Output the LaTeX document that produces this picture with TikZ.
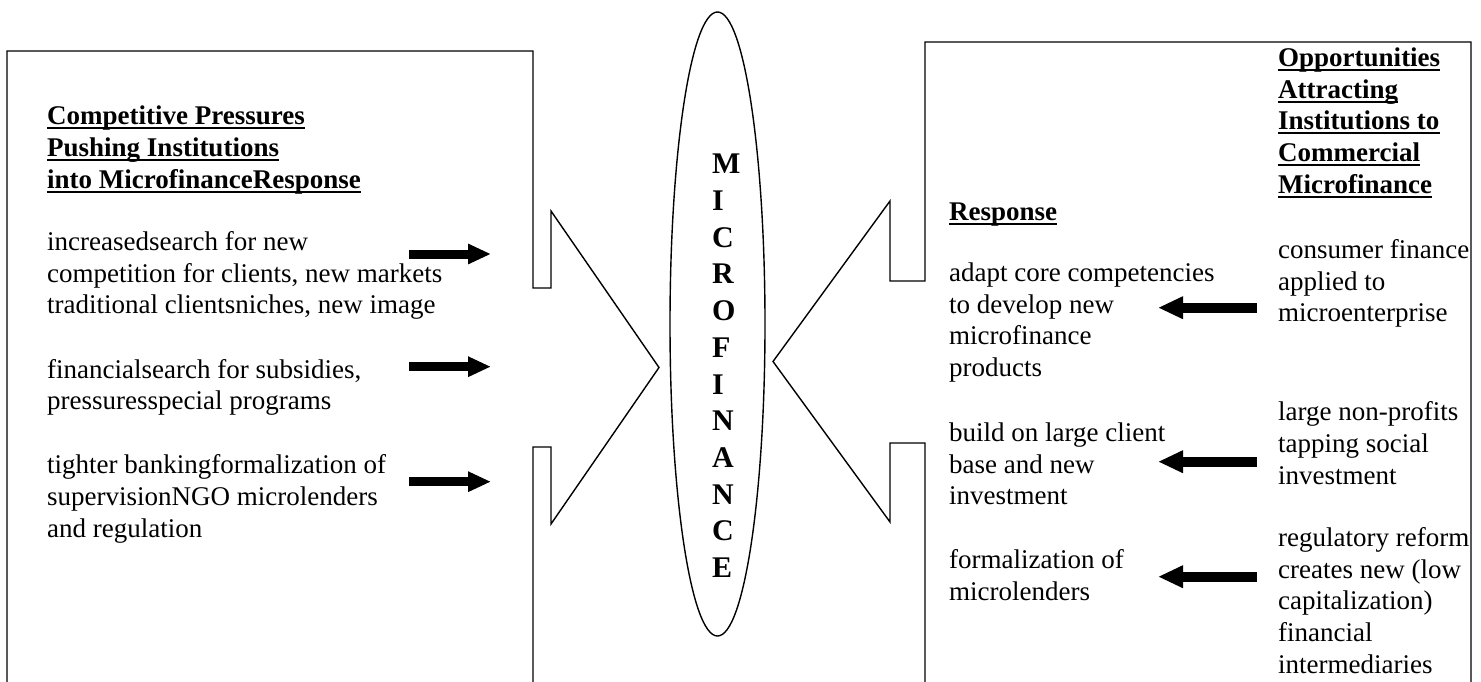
\documentclass[tikz,border=0pt]{standalone}
\usepackage{fontspec}
\setmainfont{Liberation Serif}
\usetikzlibrary{arrows.meta}
\newcommand\ulx[1]{\setbox0\hbox{#1}\rlap{\rule[-4.5pt]{\wd0}{2pt}}\box0}
\begin{document}
\begin{tikzpicture}[x=1pt,y=-1pt,
  txt/.style={anchor=north west, inner sep=0pt, align=left, font=\fontsize{27}{31.7}\selectfont},
  hd/.style={txt, font=\fontsize{27}{31.7}\selectfont\bfseries},
  outline/.style={draw=black, line width=1.4pt, line join=miter},
  larrow/.style={line width=9pt, -{Triangle[length=23pt, width=19pt]}},
  rarrow/.style={line width=10pt, -{Triangle[length=25pt, width=21pt]}}]
\useasboundingbox (0,0) rectangle (1481,682);

% left callout shape
\draw[outline] (7,690) -- (7,51) -- (533,51) -- (533,288) -- (551,288) -- (551,211)
  -- (659,367.5) -- (551,524) -- (551,447) -- (533,447) -- (533,690);

% right callout shape
\draw[outline] (925,690) -- (925,443) -- (890,443) -- (890,522) -- (773,361.5)
  -- (890,201) -- (890,281) -- (925,281) -- (925,42) -- (1471,42) -- (1471,690);

% central ellipse
\draw[outline] (717.5,324) ellipse [x radius=47.5, y radius=312];
\node[anchor=north west, inner sep=0pt, align=left, font=\fontsize{30}{36.7}\selectfont\bfseries]
  (mftext) at (712,148) {\strut M\\I\\C\\R\\O\\F\\I\\N\\A\\N\\C\\E};

% left texts
\node[hd] (lhead) at (47,102.4) {\strut\ulx{Competitive Pressures}\\\ulx{Pushing Institutions}\\\ulx{into MicrofinanceResponse}};
\node[txt] (litem1) at (47,228) {\strut increasedsearch for new\\competition for clients, new markets\\traditional clientsniches, new image};
\node[txt] (litem2) at (47,355.8) {\strut financialsearch for subsidies,\\pressuresspecial programs};
\node[txt] (litem3) at (47,451.5) {\strut tighter bankingformalization of\\supervisionNGO microlenders\\and regulation};

% right response column
\node[hd] (rresp) at (949,198.5) {\strut\ulx{Response}};
\node[txt] (rr1) at (949,259) {\strut adapt core competencies\\to develop new\\microfinance\\products};
\node[txt] (rr2) at (949,419) {\strut build on large client\\base and new\\investment};
\node[txt] (rr3) at (949,546) {\strut formalization of\\microlenders};

% right opportunities column
\node[hd] (ohead) at (1278,44) {\strut\ulx{Opportunities}\\\ulx{Attracting}\\\ulx{Institutions to}\\\ulx{Commercial}\\\ulx{Microfinance}};
\node[txt] (o1) at (1278,236) {\strut consumer finance\\applied to\\microenterprise};
\node[txt] (o2) at (1278,398.5) {\strut large non-profits\\tapping social\\investment};
\node[txt] (o3) at (1278,524) {\strut regulatory reform\\creates new (low\\capitalization)\\financial\\intermediaries};

% arrows
\coordinate (la1s) at (409,254);   \coordinate (la1e) at (491,254);
\coordinate (la2s) at (409,366.7); \coordinate (la2e) at (491,366.7);
\coordinate (la3s) at (409,481.7); \coordinate (la3e) at (491,481.7);
\coordinate (ra1s) at (1257,307.7); \coordinate (ra1e) at (1158,307.7);
\coordinate (ra2s) at (1257,461.7); \coordinate (ra2e) at (1158,461.7);
\coordinate (ra3s) at (1257,576.7); \coordinate (ra3e) at (1158,576.7);
\draw[larrow] (la1s) -- (la1e);
\draw[larrow] (la2s) -- (la2e);
\draw[larrow] (la3s) -- (la3e);
\draw[rarrow] (ra1s) -- (ra1e);
\draw[rarrow] (ra2s) -- (ra2e);
\draw[rarrow] (ra3s) -- (ra3e);
\end{tikzpicture}
\end{document}
